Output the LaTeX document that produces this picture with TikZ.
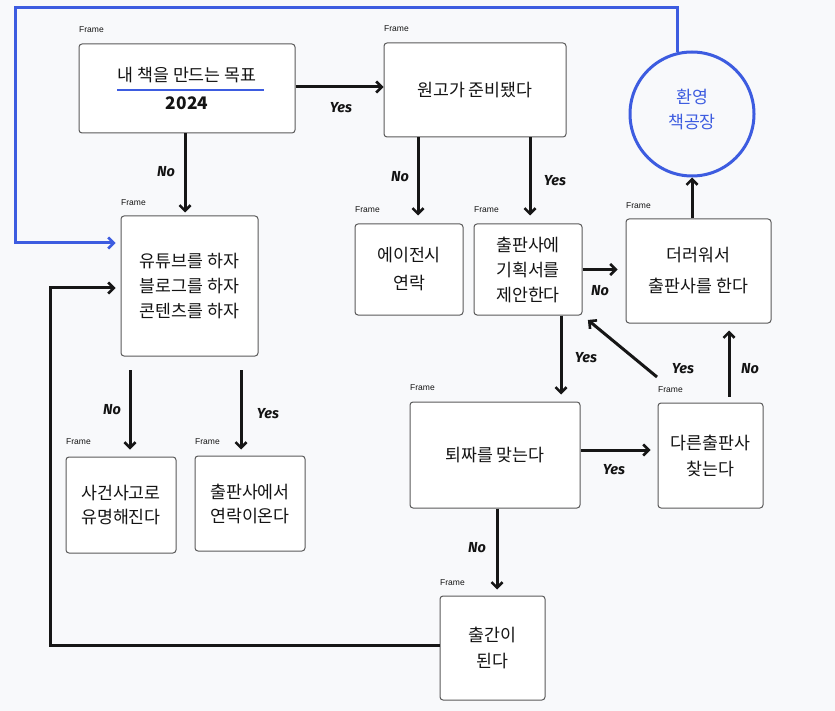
\documentclass[tikz,border=0pt]{standalone}
\usepackage{fontspec}
\setmainfont{Noto Sans CJK KR}
\newfontfamily\kr{Noto Sans CJK KR}
\newfontfamily\lab{Fira Sans}
\newfontfamily\frm{Liberation Sans}
\usetikzlibrary{arrows.meta,calc}
\definecolor{bgc}{HTML}{F8F9FB}
\definecolor{bordc}{HTML}{5A5A5A}
\definecolor{txtc}{HTML}{141414}
\definecolor{bluec}{HTML}{3D5CE0}
\definecolor{arrc}{HTML}{161616}
\tikzset{
  box/.style={draw=bordc, line width=1pt, rounded corners=3pt, fill=white,
    inner sep=0pt, align=center, text=txtc,
    font=\kr\fontsize{17.3}{25}\selectfont},
  framelab/.style={anchor=west, inner sep=0pt, font=\frm\fontsize{8.5}{10}\selectfont, text=txtc},
  yn/.style={inner sep=0pt, font=\lab\bfseries\itshape\fontsize{14.5}{16}\selectfont, text=txtc},
  arr/.style={draw=arrc, line width=3pt, line join=miter, -{Straight Barb[length=5.5pt,width=11pt,line width=2.6pt]}},
  barr/.style={draw=bluec, line width=3pt, line join=miter, -{Straight Barb[length=5.5pt,width=11pt,line width=2.6pt]}},
}
\begin{document}
\begin{tikzpicture}[x=1pt,y=-1pt]
\useasboundingbox (0,0) rectangle (835,711);
\fill[bgc] (0,0) rectangle (835,711);

% boxes
\node[box, minimum width=216pt, minimum height=89pt] (b1) at (187,88.5) {내 책을 만드는 목표\\[3pt]\textbf{2024}};
\node[framelab] (f1) at (79,30) {Frame};
\draw[bluec, line width=2.6pt] (117,90) -- (264,90);

\node[box, minimum width=182pt, minimum height=94pt] (b2) at (475,90) {원고가 준비됐다};
\node[framelab] (f2) at (384,29) {Frame};

\node[draw=bluec, line width=3pt, circle, minimum size=124pt, inner sep=0pt] (circ) at (692,114) {};
\node[inner sep=0pt, align=center, text=bluec, font=\kr\fontsize{17.3}{25}\selectfont] (circt) at (692,109.5) {환영\\책공장};

\node[box, minimum width=137pt, minimum height=140pt] (b3) at (189.5,286) {유튜브를 하자\\블로그를 하자\\콘텐츠를 하자};
\node[framelab] (f3) at (121,203) {Frame};

\node[box, minimum width=108pt, minimum height=91pt, font=\kr\fontsize{17.3}{28}\selectfont] (ag) at (409,269.5) {에이전시\\연락};
\node[framelab] (f4) at (355,210) {Frame};

\node[box, minimum width=108pt, minimum height=91pt] (pr) at (528,269.5) {출판사에\\기획서를\\제안한다};
\node[framelab] (f5) at (474,210) {Frame};

\node[box, minimum width=145pt, minimum height=104pt, font=\kr\fontsize{17.3}{31}\selectfont] (dr) at (698.5,271) {더러워서\\출판사를 한다};
\node[framelab] (f6) at (626,206) {Frame};

\node[box, minimum width=110pt, minimum height=96pt, font=\kr\fontsize{17.3}{24}\selectfont] (sa) at (121,505) {사건사고로\\유명해진다};
\node[framelab] (f7) at (66,442) {Frame};

\node[box, minimum width=110pt, minimum height=95pt, font=\kr\fontsize{17.3}{24}\selectfont] (cs) at (250,503.5) {출판사에서\\연락이온다};
\node[framelab] (f8) at (195,442) {Frame};

\node[box, minimum width=170pt, minimum height=106pt] (tj) at (495,455) {퇴짜를 맞는다};
\node[framelab] (f9) at (410,388) {Frame};

\node[box, minimum width=105pt, minimum height=105pt, font=\kr\fontsize{17.3}{26}\selectfont] (ot) at (710.5,455.5) {다른출판사\\찾는다};
\node[framelab] (f10) at (658,390) {Frame};

\node[box, minimum width=105pt, minimum height=104pt, font=\kr\fontsize{17.3}{26}\selectfont] (pub) at (492.5,648) {출간이\\된다};
\node[framelab] (f11) at (440,583) {Frame};

% free-end coordinates
\coordinate (s7) at (130,370);
\coordinate (s8) at (241,370);
\coordinate (dgs) at (657,377);
\coordinate (lp) at (50,288);
\coordinate (bl) at (15,8);

% connectors
\draw[arr] ([yshift=1.5pt]b1.east) -- ([yshift=1.5pt]b1.east -| b2.west);
\draw[arr, shorten >=3pt] ([xshift=-2pt]b1.south) -- ([xshift=-2pt]b1.south |- b3.north);
\draw[arr, shorten >=8pt] ([xshift=-57pt]b2.south) -- ([xshift=-57pt]b2.south |- ag.north);
\draw[arr, shorten >=8pt] ([xshift=55pt]b2.south) -- ([xshift=55pt]b2.south |- pr.north);
\draw[arr, shorten >=8pt] (pr.east) -- (pr.east -| dr.west);
\draw[arr] ([xshift=-6.5pt]dr.north) -- ([xshift=-6.5pt]dr.north |- circ.south);
\draw[arr, shorten >=7pt] (s7) -- (s7 |- sa.north);
\draw[arr, shorten >=6pt] (s8) -- (s8 |- cs.north);
\draw[arr, shorten >=7pt] ([xshift=33pt]pr.south) -- ([xshift=33pt]pr.south |- tj.north);
\draw[arr, shorten >=7pt] ([yshift=5pt]tj.east) -- ([yshift=5pt]tj.east -| ot.west);
\draw[arr, shorten >=7pt] ([xshift=18.5pt,yshift=6pt]ot.north) -- ([xshift=18.5pt]ot.north |- dr.south);
\draw[arr, shorten >=7pt] (dgs) -- (pr.south east);
\draw[arr, shorten >=6pt] ([xshift=2pt]tj.south) -- ([xshift=2pt]tj.south |- pub.north);
\draw[arr, shorten >=5pt] ([yshift=3pt]pub.west) -| (lp) -- (lp -| b3.west);
\draw[barr, shorten >=5pt] (circ.103) |- (bl) |- ([yshift=43pt]b3.west);

% labels
\node[yn] (l1) at (341,108) {Yes};
\node[yn] (l2) at (166,172) {No};
\node[yn] (l3) at (400,177) {No};
\node[yn] (l4) at (555,181) {Yes};
\node[yn] (l5) at (600,291) {No};
\node[yn] (l6) at (586,358) {Yes};
\node[yn] (l7) at (683,369) {Yes};
\node[yn] (l8) at (750,369) {No};
\node[yn] (l9) at (112,410) {No};
\node[yn] (l10) at (268,414) {Yes};
\node[yn] (l11) at (614,470) {Yes};
\node[yn] (l12) at (477,548) {No};
\end{tikzpicture}
\end{document}
